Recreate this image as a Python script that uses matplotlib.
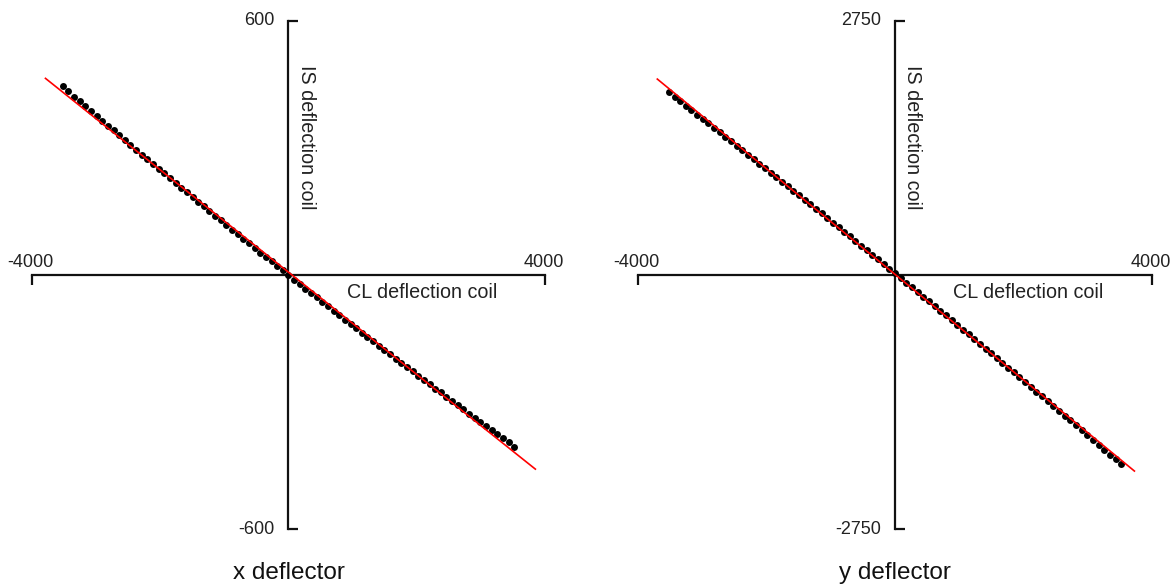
import matplotlib
matplotlib.use("Agg")
import matplotlib.pyplot as plt

plt.rcParams['font.family'] = ['Liberation Sans', 'DejaVu Sans']

# CL deflection coil values (same sweep for both deflectors)
cl = [-3520, -3432, -3344, -3256, -3168, -3080, -2992, -2904, -2816, -2728,
      -2640, -2552, -2464, -2376, -2288, -2200, -2112, -2024, -1936, -1848,
      -1760, -1672, -1584, -1496, -1408, -1320, -1232, -1144, -1056, -968,
      -880, -792, -704, -616, -528, -440, -352, -264, -176, -88,
      0, 88, 176, 264, 352, 440, 528, 616, 704, 792,
      880, 968, 1056, 1144, 1232, 1320, 1408, 1496, 1584, 1672,
      1760, 1848, 1936, 2024, 2112, 2200, 2288, 2376, 2464, 2552,
      2640, 2728, 2816, 2904, 2992, 3080, 3168, 3256, 3344, 3432, 3520]

# IS deflection coil, x deflector
is_x = [445, 433, 421, 410, 398, 387, 375, 364, 352, 341,
        330, 318, 307, 296, 284, 273, 262, 251, 240, 228,
        217, 206, 195, 184, 173, 162, 151, 140, 129, 118,
        107, 97, 86, 75, 64, 53, 43, 32, 21, 11,
        0, -11, -21, -32, -42, -53, -63, -74, -84, -95,
        -105, -115, -126, -136, -146, -156, -167, -177, -187, -197,
        -207, -217, -227, -238, -248, -258, -268, -277, -287, -297,
        -307, -317, -327, -337, -346, -356, -366, -376, -385, -395, -405]

# IS deflection coil, y deflector
is_y = [1974, 1926, 1879, 1831, 1783, 1735, 1687, 1639, 1591, 1543,
        1495, 1447, 1399, 1350, 1302, 1253, 1205, 1156, 1107, 1058,
        1010, 961, 912, 863, 813, 764, 715, 666, 616, 567,
        517, 468, 418, 368, 318, 268, 219, 169, 118, 68,
        18, -32, -83, -133, -184, -234, -285, -336, -386, -437,
        -488, -539, -590, -641, -692, -744, -795, -846, -898, -949,
        -1001, -1053, -1104, -1156, -1208, -1260, -1312, -1364, -1416, -1469,
        -1521, -1573, -1626, -1678, -1731, -1783, -1836, -1889, -1942, -1995, -2048]

# linear fits (end points)
fit_x_cl = [-3790, 3850]
fit_x_is = [464, -458]
fit_y_cl = [-3700, 3725]
fit_y_is = [2119, -2120]

xlim = 4000
ylims = [600, 2750]
titles = ['x deflector', 'y deflector']

fig = plt.figure(figsize=(11.72, 5.87), dpi=100)
ax1 = fig.add_axes([0.0273, 0.0983, 0.4377, 0.8664])
ax2 = fig.add_axes([0.5444, 0.0983, 0.4386, 0.8664])

panels = [(ax1, is_x, fit_x_cl, fit_x_is, ylims[0], titles[0]),
          (ax2, is_y, fit_y_cl, fit_y_is, ylims[1], titles[1])]

for ax, ys, fx, fy, ylim, title in panels:
    ax.plot(cl, ys, 'o', color='black', ms=5, mec='none', zorder=3)
    ax.plot(fx, fy, '-', color='red', lw=1.2, zorder=4)

    ax.set_xlim(-xlim, xlim)
    ax.set_ylim(-ylim, ylim)
    for s in ['top', 'right']:
        ax.spines[s].set_visible(False)
    ax.spines['left'].set_position('zero')
    ax.spines['bottom'].set_position('zero')
    for s in ['left', 'bottom']:
        ax.spines[s].set_linewidth(1.6)
        ax.spines[s].set_color('#111111')
    ax.set_xticks([-xlim, xlim])
    ax.set_yticks([-ylim, ylim])
    ax.tick_params(axis='x', direction='out', length=7, width=1.6,
                   color='#111111', labelbottom=False)
    ax.tick_params(axis='y', direction='in', length=7, width=1.6,
                   color='#111111', labelleft=False)

    # tick labels
    for xv in [-xlim, xlim]:
        ax.annotate(str(xv), (xv, 0), xytext=(-1, 3), textcoords='offset points',
                    ha='center', va='bottom', fontsize=13, color='#222222')
    for yv in [-ylim, ylim]:
        ax.annotate(str(yv), (0, yv), xytext=(-10, 0), textcoords='offset points',
                    ha='right', va='center', fontsize=13, color='#222222')

    # axis names
    ax.annotate('CL deflection coil', (0, 0), xytext=(42, -6),
                textcoords='offset points', ha='left', va='top',
                fontsize=14.2, color='#222222')
    ax.annotate('IS deflection coil', (0, ylim), xytext=(6, -32),
                textcoords='offset points', ha='left', va='top',
                rotation=270, fontsize=14.2, color='#222222')

    ax.text(0.5, -0.085, title, transform=ax.transAxes, ha='center',
            va='center', fontsize=17.5, color='#111111')

fig.savefig('out.png', dpi=100)
